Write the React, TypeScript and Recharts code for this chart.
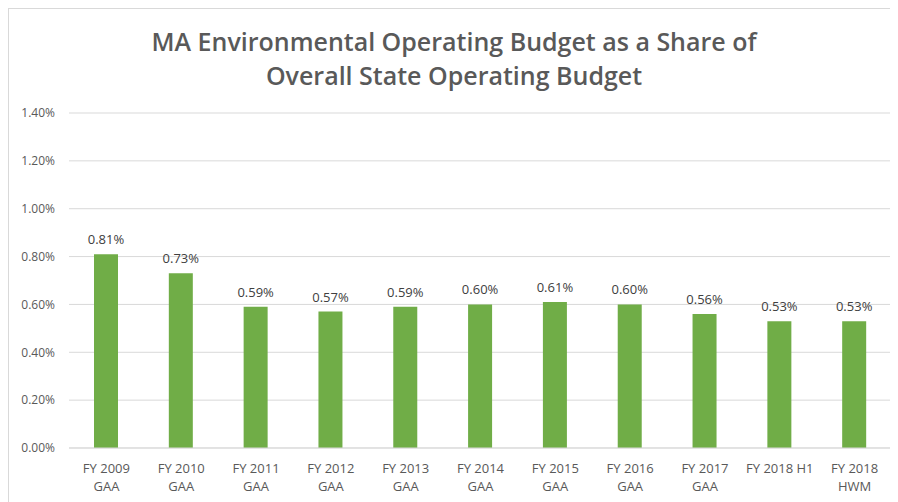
import { BarChart, Bar, XAxis, YAxis, CartesianGrid, LabelList } from 'recharts'

const categories = [
  'FY 2009\nGAA',
  'FY 2010\nGAA',
  'FY 2011\nGAA',
  'FY 2012\nGAA',
  'FY 2013\nGAA',
  'FY 2014\nGAA',
  'FY 2015\nGAA',
  'FY 2016\nGAA',
  'FY 2017\nGAA',
  'FY 2018 H1',
  'FY 2018\nHWM',
]
const shares = [0.81, 0.73, 0.59, 0.57, 0.59, 0.6, 0.61, 0.6, 0.56, 0.53, 0.53]
const yTicks = [0, 0.2, 0.4, 0.6, 0.8, 1.0, 1.2, 1.4]

const data = categories.map((c, i) => ({ name: c, value: shares[i] }))

const FONT = '"Open Sans", "Liberation Sans", sans-serif'
const GREEN = '#70ad47'

// two-line category labels
const MultiLineTick = (props: any) => {
  const { x, y, payload } = props
  const lines = String(payload.value).split('\n')
  return (
    <g transform={`translate(${x},${y})`}>
      {lines.map((l, i) => (
        <text key={i} x={0} y={17 + i * 18} textAnchor="middle" fill="#595959" fontSize={13} fontFamily={FONT}>
          {l}
        </text>
      ))}
    </g>
  )
}

export default function App() {
  return (
    <div style={{ position: 'relative', width: 890, height: 494, borderTop: '1px solid #d9d9d9', borderLeft: '1px solid #d9d9d9', boxSizing: 'border-box', background: '#fff', fontFamily: FONT }}>
      <div style={{ position: 'absolute', left: 0, top: 15, width: 890, textAlign: 'center', color: '#595959', fontSize: 25, fontWeight: 600, lineHeight: '34px' }}>
        MA Environmental Operating Budget as a Share of
        <br />
        Overall State Operating Budget
      </div>
      <BarChart width={889} height={493} data={data} margin={{ top: 104, right: 6, left: 0, bottom: 0 }}>
        <CartesianGrid vertical={false} stroke="#d9d9d9" />
        <XAxis
          dataKey="name" interval={0} height={54}
          axisLine={{ stroke: '#d9d9d9' }} tickLine={false}
          tick={<MultiLineTick />}
        />
        <YAxis
          width={60} domain={[0, 1.4]} ticks={yTicks} axisLine={false} tickLine={false}
          tickMargin={8}
          tickFormatter={(v) => `${v.toFixed(2)}%`}
          tick={{ fontSize: 12, fill: '#595959', fontFamily: FONT }}
        />
        <Bar dataKey="value" fill={GREEN} barSize={24} isAnimationActive={false}>
          <LabelList
            dataKey="value" position="top" offset={10}
            formatter={(v: any) => `${Number(v).toFixed(2)}%`}
            style={{ fontSize: 13, fill: '#404040', fontFamily: FONT }}
          />
        </Bar>
      </BarChart>
    </div>
  )
}
